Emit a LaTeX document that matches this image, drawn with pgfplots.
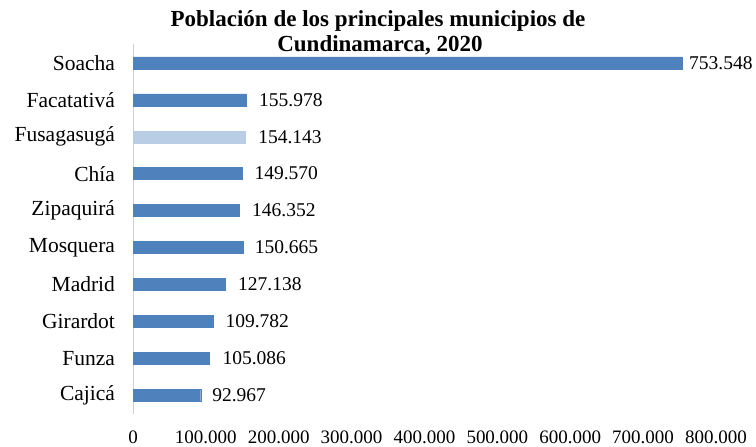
\documentclass[border=0pt]{standalone}
\usepackage{pgfplots}
\pgfplotsset{compat=1.18}
\usepackage{fontspec}
\setmainfont{Liberation Serif}
\definecolor{barblue}{HTML}{4F81BD}
\definecolor{barlight}{HTML}{B9CDE5}
\begin{document}
\begin{tikzpicture}[x=1pt,y=1pt]
\useasboundingbox (0,0) rectangle (756,447);
\node[font=\bfseries\fontsize{23}{24}\selectfont, anchor=base] at (378,420) {Población de los principales municipios de};
\node[font=\bfseries\fontsize{23}{24}\selectfont, anchor=base] at (380,395) {Cundinamarca, 2020};
\begin{axis}[
  at={(133pt,33.5pt)}, anchor=south west,
  scale only axis, width=583pt, height=369pt,
  xmin=0, xmax=800000, ymin=-0.5, ymax=9.5,
  y dir=reverse,
  xbar, bar width=12pt, bar shift=0pt,
  axis y line*=left, axis x line*=bottom,
  x axis line style={draw=none},
  y axis line style={draw=black!18, line width=0.8pt},
  major tick length=0pt,
  xtick={0,100000,...,800000},
  scaled x ticks=false,
  /pgf/number format/.cd, assume math mode=true, 1000 sep={.}, fixed, /pgfplots/.cd,
  xticklabel style={font=\fontsize{19}{21}\selectfont, yshift=-14pt},
  ytick={0,...,9},
  yticklabels={Soacha,Facatativá,Fusagasugá,Chía,Zipaquirá,Mosquera,Madrid,Girardot,Funza,Cajicá},
  yticklabel style={font=\fontsize{21.5}{23}\selectfont, xshift=-14.5pt},
  nodes near coords,
  visualization depends on={\thisrow{dx} \as \dx},
  every node near coord/.append style={font=\fontsize{19.5}{21}\selectfont, xshift=\dx pt, text=black},
  point meta=x,
]
\addplot[fill=barblue, draw=barblue] table {
x y dx
753548 0 3.5
155978 1 9
149570 3 9
146352 4 9
150665 5 8.5
127138 6 9
109782 7 9
105086 8 9.5
92967 9 8
};
\addplot[fill=barlight, draw=barlight] table {
x y dx
154143 2 9.5
};
\end{axis}
\end{tikzpicture}
\end{document}
